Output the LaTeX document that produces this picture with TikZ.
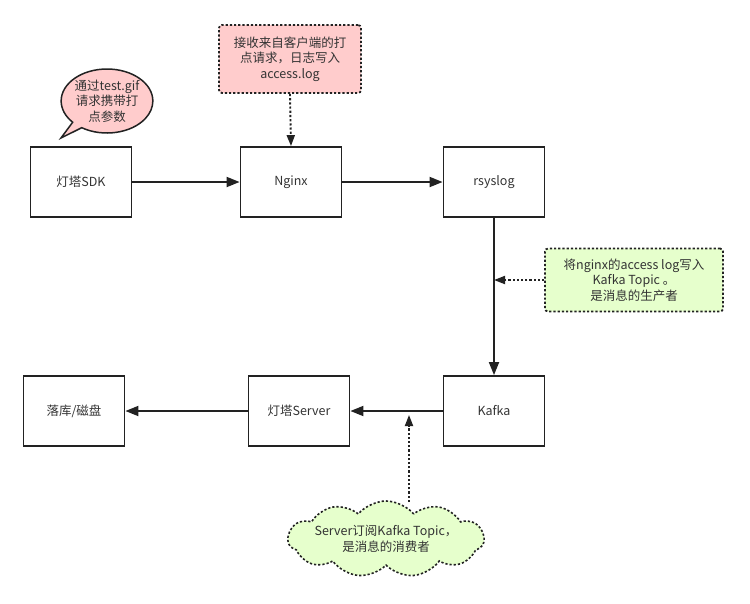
\documentclass[tikz,border=0pt]{standalone}
\usepackage{fontspec}
\setmainfont{Noto Sans CJK SC}
\usetikzlibrary{shapes.symbols,shapes.callouts,arrows.meta}
\definecolor{ink}{HTML}{222222}
\definecolor{pinkfill}{HTML}{FFCCCC}
\definecolor{greenfill}{HTML}{E6FFCC}
\definecolor{txt}{HTML}{333333}
\begin{document}
\begin{tikzpicture}[x=1pt,y=-1pt,
  every node/.style={font=\fontsize{12.5}{15.5}\selectfont, text=txt},
  procbox/.style={draw=ink, line width=1.8pt, minimum width=101pt, minimum height=70pt, inner sep=0pt},
  flow/.style={draw=ink, line width=1.8pt, -{Triangle[length=13pt,width=10pt]}},
  dots/.style={draw=ink, line width=1.9pt, dash pattern=on 2.2pt off 2pt},
  dotflow/.style={dots, -{Triangle[length=11pt,width=8pt]}},
  notebox/.style={line width=1.8pt, dash pattern=on 2.2pt off 2pt, draw=ink, rounded corners=3pt, align=center, inner sep=0pt}
]
\useasboundingbox (0,0) rectangle (750,603);

% process boxes
\node[procbox] (sdk) at (81,182) {灯塔SDK};
\node[procbox] (nginx) at (291,182) {Nginx};
\node[procbox] (rsys) at (494,182) {rsyslog};
\node[procbox] (kafka) at (494,411) {Kafka};
\node[procbox] (server) at (299,411) {灯塔Server};
\node[procbox] (disk) at (74,411) {落库/磁盘};

% main flow
\draw[flow] (sdk) -- (nginx);
\draw[flow] (nginx) -- (rsys);
\draw[flow] (rsys) -- (kafka);
\draw[flow] (kafka) -- (server);
\draw[flow] (server) -- (disk);

% speech bubble
\node[ellipse callout, draw=ink, line width=1.5pt, fill=pinkfill,
  minimum width=90pt, minimum height=64pt, inner sep=0pt, align=center,
  callout absolute pointer={(61,138)}, callout pointer width=16pt] (bubble) at (107,101)
  {通过test.gif\\请求携带打\\点参数};

% pink note
\node[notebox, fill=pinkfill, minimum width=142pt, minimum height=68pt] (pnote) at (290,59)
  {接收来自客户端的打\\点请求，日志写入\\access.log};
\draw[dotflow] (pnote.south) -- (nginx.north);

% green note
\node[notebox, fill=greenfill, minimum width=178pt, minimum height=63pt] (gnote) at (634,280)
  {将nginx的access log写入\\Kafka Topic 。\\是消息的生产者};
\coordinate (gtip) at (494,280);
\draw[dotflow] (gnote.west) -- (gtip);

% cloud
\node[cloud, cloud puffs=11, cloud puff arc=100, aspect=2.6, draw=ink, line width=1.6pt,
  dash pattern=on 2.2pt off 2pt, fill=greenfill, minimum width=196pt, minimum height=76pt,
  inner sep=0pt] (cloud) at (386,539) {};
\node[align=center] (ctext) at (cloud.center) {Server订阅Kafka Topic，\\是消息的消费者};
\coordinate (ctop) at (409,502);
\coordinate (ctip) at (409,415);
\draw[dotflow] (ctop) -- (ctip);
\end{tikzpicture}
\end{document}
